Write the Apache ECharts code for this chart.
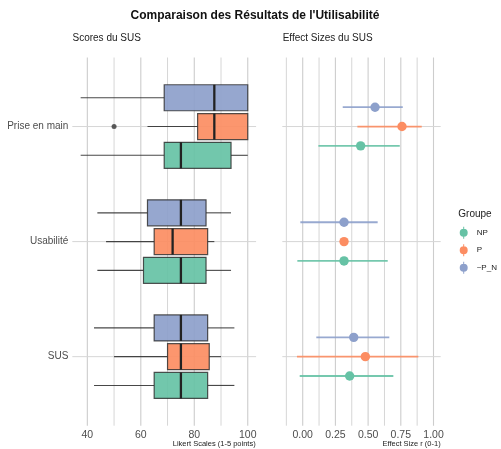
<!DOCTYPE html>
<html><head><meta charset="utf-8">
<script src="https://cdn.jsdelivr.net/npm/echarts@6/dist/echarts.min.js"></script>
<style>html,body{margin:0;padding:0;background:#fff}#c{width:501px;height:449px}</style>
</head><body><div id="c"></div>
<script>
// ---------- data ----------
const categories = ['Prise en main', 'Usabilité', 'SUS'];   // top to bottom
const groups = ['NP', 'P', '~P_N'];
const groupColors = ['#66C2A5', '#FC8D62', '#8DA0CB'];
// boxplot stats per category: [min, q1, median, q3, max]
const boxNP = [[37.5, 68.75, 75, 93.75, 100], [43.75, 61, 75, 84.4, 93.75], [42.5, 65, 75, 85, 95]];
const boxP  = [[62.5, 81.25, 87.5, 100, 100], [47, 65, 71.9, 85, 87.5], [50, 70, 75, 85.6, 90]];
const boxPN = [[37.5, 68.75, 87.5, 100, 100], [43.75, 62.5, 75, 84.4, 93.75], [42.5, 65, 75, 85, 95]];
const outliersP = [[50, 'Prise en main']];
// effect sizes per category: [estimate, ci low, ci high]
const effNP = [[0.443, 0.12, 0.742], [0.316, -0.041, 0.65], [0.359, -0.023, 0.693]];
const effP  = [[0.759, 0.418, 0.91], [0.316, null, null], [0.479, -0.044, 0.884]];
const effPN = [[0.553, 0.306, 0.765], [0.316, -0.018, 0.573], [0.39, 0.104, 0.662]];
// axis ticks
const scoreTicks = [40, 60, 80, 100];
const scoreMinor = [50, 70, 90];
const effTicks = [0, 0.25, 0.5, 0.75, 1];
const effMinor = [-0.125, 0.125, 0.375, 0.625, 0.875];

// ---------- helpers ----------
const FONT = 'Liberation Sans';
const nCat = categories.length;
const catPos = i => nCat - i;               // 3 = top row
const SCORE_MIN = 34.375, SCORE_MAX = 103.125;
const EFF_MIN = -0.156, EFF_MAX = 1.055;
const boxOffsets = [-0.25, 0, 0.25];        // NP, P, ~P_N
const effOffsets = [-0.168, 0, 0.168];
const BOX_HALF = 0.113;

function vGridSeries(gi, vals, color, width) {
  return {
    type: 'custom', xAxisIndex: gi, yAxisIndex: gi, z: 1, silent: true,
    data: vals.map(v => [v, 2]),
    encode: { x: 0, y: 1 },
    renderItem: (params, api) => {
      const cs = params.coordSys;
      const x = api.coord([api.value(0), 2])[0];
      return { type: 'line', shape: { x1: x, y1: cs.y, x2: x, y2: cs.y + cs.height },
        style: { stroke: color, lineWidth: width } };
    }
  };
}
function hGridSeries(gi, xMid, color) {
  return {
    type: 'custom', xAxisIndex: gi, yAxisIndex: gi, z: 1, silent: true,
    data: categories.map((c, i) => [xMid, catPos(i)]),
    encode: { x: 0, y: 1 },
    renderItem: (params, api) => {
      const cs = params.coordSys;
      const y = api.coord([xMid, api.value(1)])[1];
      return { type: 'line', shape: { x1: cs.x, y1: y, x2: cs.x + cs.width, y2: y },
        style: { stroke: color, lineWidth: 1 } };
    }
  };
}
function boxSeries(gIdx, stats) {
  const color = groupColors[gIdx];
  const off = boxOffsets[gIdx];
  return {
    name: groups[gIdx], type: 'custom', xAxisIndex: 0, yAxisIndex: 0, z: 3,
    itemStyle: { color: color },
    data: stats.map((s, i) => [catPos(i)].concat(s)),
    encode: { x: [1, 2, 3, 4, 5], y: 0 },
    renderItem: (params, api) => {
      const yv = api.value(0) + off;
      const c = v => api.coord([v, yv]);
      const half = api.size([0, BOX_HALF])[1];
      const pMin = c(api.value(1)), pQ1 = c(api.value(2)), pMed = c(api.value(3)),
            pQ3 = c(api.value(4)), pMax = c(api.value(5));
      const y = pQ1[1];
      const wStyle = { stroke: 'rgba(40,40,40,0.85)', lineWidth: 1.1 };
      const ch = [];
      if (pMin[0] < pQ1[0]) ch.push({ type: 'line', shape: { x1: pMin[0], y1: y, x2: pQ1[0], y2: y }, style: wStyle });
      if (pMax[0] > pQ3[0]) ch.push({ type: 'line', shape: { x1: pQ3[0], y1: y, x2: pMax[0], y2: y }, style: wStyle });
      ch.push({ type: 'rect', shape: { x: pQ1[0], y: y - half, width: pQ3[0] - pQ1[0], height: 2 * half },
        style: { fill: color, fillOpacity: 0.92, stroke: 'rgba(40,40,40,0.8)', lineWidth: 1.2 } });
      ch.push({ type: 'line', shape: { x1: pMed[0], y1: y - half, x2: pMed[0], y2: y + half },
        style: { stroke: '#222', lineWidth: 2.3 } });
      return { type: 'group', children: ch };
    }
  };
}
function effSeries(gIdx, stats) {
  const color = groupColors[gIdx];
  const off = effOffsets[gIdx];
  return {
    name: groups[gIdx], type: 'custom', xAxisIndex: 1, yAxisIndex: 1, z: 3,
    itemStyle: { color: color },
    data: stats.map((s, i) => [catPos(i), s[0], s[1] == null ? '-' : s[1], s[2] == null ? '-' : s[2]]),
    encode: { x: [1, 2, 3], y: 0 },
    renderItem: (params, api) => {
      const yv = api.value(0) + off;
      const pE = api.coord([api.value(1), yv]);
      const ch = [];
      const lo = api.value(2), hi = api.value(3);
      if (!isNaN(lo) && !isNaN(hi)) {
        const pL = api.coord([lo, yv]), pH = api.coord([hi, yv]);
        ch.push({ type: 'line', shape: { x1: pL[0], y1: pL[1], x2: pH[0], y2: pH[1] },
          style: { stroke: color, lineWidth: 1.8, opacity: 0.9 } });
      }
      ch.push({ type: 'circle', shape: { cx: pE[0], cy: pE[1], r: 4.7 }, style: { fill: color } });
      return { type: 'group', children: ch };
    }
  };
}

const labelColor = '#4d4d4d';
const legendIcon = 'path://M4,0h1v12h-1z M0.5,6a4,4 0 1,1 8,0a4,4 0 1,1 -8,0z';

const option = {
  animation: false,
  backgroundColor: '#fff',
  textStyle: { fontFamily: FONT },
  title: [
    { text: "Comparaison des Résultats de l'Utilisabilité", left: 255, top: 10, textAlign: 'center', padding: 0,
      textStyle: { fontFamily: FONT, fontSize: 12, fontWeight: 'bold', color: '#111' } },
    { text: 'Scores du SUS', left: 72.5, top: 33.5, padding: 0,
      textStyle: { fontFamily: FONT, fontSize: 10, fontWeight: 'normal', color: '#222' } },
    { text: 'Effect Sizes du SUS', left: 282.7, top: 33.5, padding: 0,
      textStyle: { fontFamily: FONT, fontSize: 10, fontWeight: 'normal', color: '#222' } }
  ],
  graphic: [
    { type: 'text', x: 255.7, y: 444.3, style: { text: 'Likert Scales (1-5 points)', align: 'right', verticalAlign: 'middle',
      font: '7.5px "Liberation Sans"', fill: '#222' } },
    { type: 'text', x: 440.7, y: 444.3, style: { text: 'Effect Size r (0-1)', align: 'right', verticalAlign: 'middle',
      font: '7.5px "Liberation Sans"', fill: '#222' } },
    { type: 'text', x: 458.3, y: 214, style: { text: 'Groupe', align: 'left', verticalAlign: 'middle',
      font: '10px "Liberation Sans"', fill: '#222' } }
  ],
  legend: {
    data: groups.map(g => ({ name: g, icon: legendIcon })),
    orient: 'vertical', left: 459.7, top: 226.7, padding: 0,
    itemWidth: 16, itemHeight: 12, itemGap: 5.5,
    textStyle: { fontFamily: FONT, fontSize: 8, color: '#222' },
    selectedMode: false
  },
  grid: [
    { left: 72.3, top: 57.5, width: 183.8, height: 368.2, containLabel: false },
    { left: 282.3, top: 57.5, width: 158.4, height: 368.2, containLabel: false }
  ],
  xAxis: [
    { type: 'value', gridIndex: 0, min: SCORE_MIN, max: SCORE_MAX,
      axisLine: { show: false }, axisTick: { show: false }, splitLine: { show: false },
      axisLabel: { customValues: scoreTicks, fontSize: 10.5, color: labelColor, margin: 3.5, fontFamily: FONT } },
    { type: 'value', gridIndex: 1, min: EFF_MIN, max: EFF_MAX,
      axisLine: { show: false }, axisTick: { show: false }, splitLine: { show: false },
      axisLabel: { customValues: effTicks, fontSize: 10.5, color: labelColor, margin: 3.5, fontFamily: FONT,
        formatter: v => v.toFixed(2) } }
  ],
  yAxis: [
    { type: 'value', gridIndex: 0, min: 0.4, max: 3.6,
      axisLine: { show: false }, axisTick: { show: false }, splitLine: { show: false },
      axisLabel: { customValues: [1, 2, 3], fontSize: 10, color: labelColor, margin: 4, fontFamily: FONT,
        formatter: v => categories[nCat - Math.round(v)] } },
    { type: 'value', gridIndex: 1, min: 0.4, max: 3.6,
      axisLine: { show: false }, axisTick: { show: false }, splitLine: { show: false },
      axisLabel: { show: false } }
  ],
  series: [
    vGridSeries(0, scoreMinor, '#d6d6d6', 1),
    vGridSeries(0, scoreTicks, '#cdcdcd', 1.1),
    hGridSeries(0, 70, '#d6d6d6'),
    vGridSeries(1, effMinor, '#d6d6d6', 1),
    vGridSeries(1, effTicks, '#cdcdcd', 1.1),
    hGridSeries(1, 0.5, '#d6d6d6'),
    boxSeries(0, boxNP),
    boxSeries(1, boxP),
    boxSeries(2, boxPN),
    { type: 'scatter', xAxisIndex: 0, yAxisIndex: 0, z: 4, silent: true,
      data: outliersP.map(o => [o[0], catPos(categories.indexOf(o[1])) + boxOffsets[1]]),
      symbolSize: 5, itemStyle: { color: '#333' } },
    effSeries(0, effNP),
    effSeries(1, effP),
    effSeries(2, effPN)
  ]
};
const chart = echarts.init(document.getElementById('c'), null, { renderer: 'canvas' });
chart.setOption(option);
</script></body></html>
